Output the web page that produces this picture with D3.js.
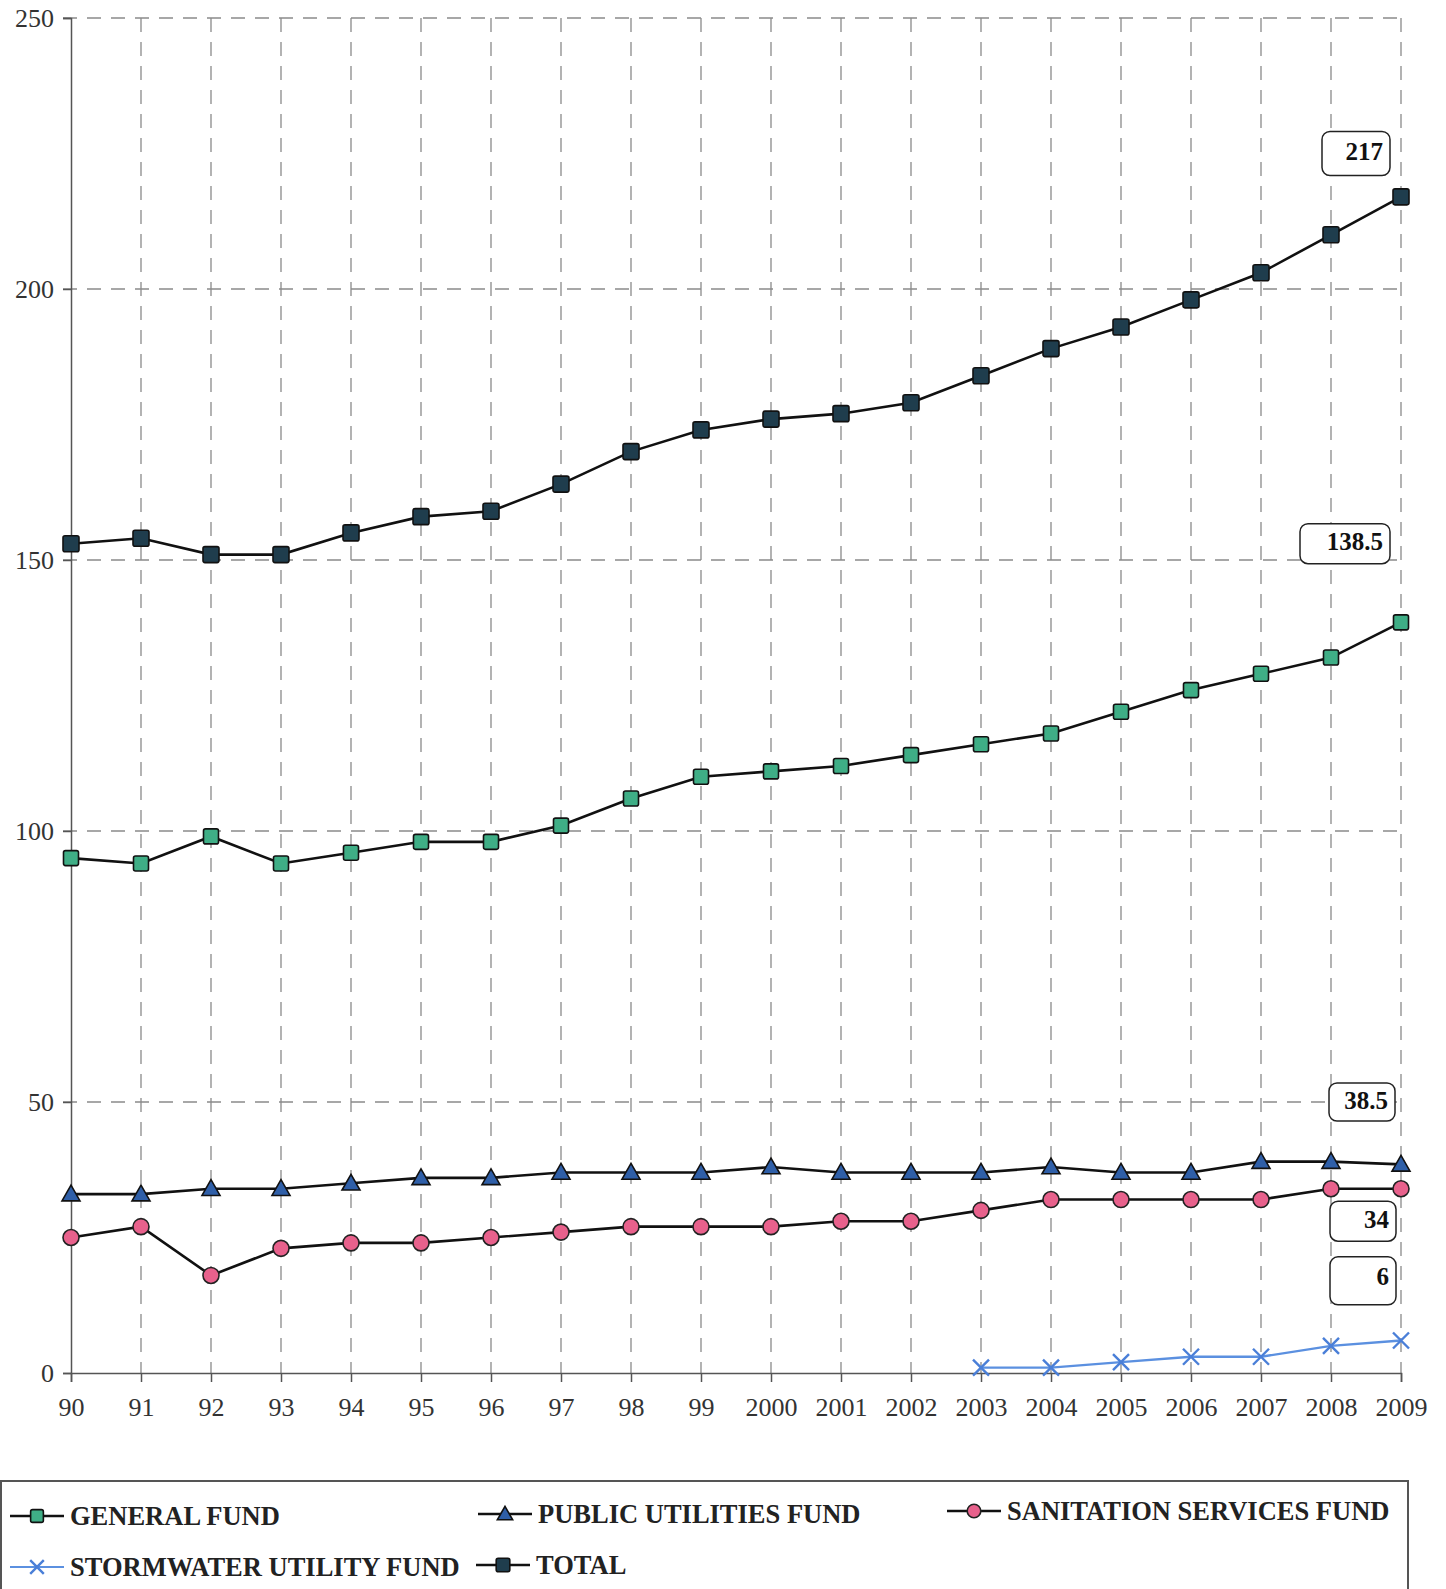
<!DOCTYPE html>
<html>
<head>
<meta charset="utf-8">
<script src="https://cdn.jsdelivr.net/npm/d3@7"></script>
<style>
  body { margin: 0; background: #fff; }
  svg { display: block; font-family: "Liberation Serif", "Times New Roman", serif; }
</style>
</head>
<body>
<svg id="chart" width="1446" height="1589"></svg>
<script>
// Data (millions)
const years = ["90", "91", "92", "93", "94", "95", "96", "97", "98", "99",
               "2000", "2001", "2002", "2003", "2004", "2005", "2006", "2007", "2008", "2009"];
const generalFund = [95, 94, 99, 94, 96, 98, 98, 101, 106, 110, 111, 112, 114, 116, 118, 122, 126, 129, 132, 138.5];
const publicUtilities = [33, 33, 34, 34, 35, 36, 36, 37, 37, 37, 38, 37, 37, 37, 38, 37, 37, 39, 39, 38.5];
const sanitation = [25, 27, 18, 23, 24, 24, 25, 26, 27, 27, 27, 28, 28, 30, 32, 32, 32, 32, 34, 34];
const stormwater = [null, null, null, null, null, null, null, null, null, null,
                    null, null, null, 1, 1, 2, 3, 3, 5, 6];
const total = [153, 154, 151, 151, 155, 158, 159, 164, 170, 174, 176, 177, 179, 184, 189, 193, 198, 203, 210, 217];
const yTicks = [0, 50, 100, 150, 200, 250];

const series = [
  { name: "GENERAL FUND", values: generalFund, marker: "square", fill: "#3fae86", line: "#111", label: "138.5" },
  { name: "PUBLIC UTILITIES FUND", values: publicUtilities, marker: "triangle", fill: "#2f5fa8", line: "#111", label: "38.5" },
  { name: "SANITATION SERVICES FUND", values: sanitation, marker: "circle", fill: "#e8618c", line: "#111", label: "34" },
  { name: "STORMWATER UTILITY FUND", values: stormwater, marker: "x", fill: "#4a7fd8", line: "#5b90e0", label: "6" },
  { name: "TOTAL", values: total, marker: "square", fill: "#1f3d4d", line: "#111", label: "217", big: true }
];

const svg = d3.select("#chart");
const plotL = 71, plotR = 1401, plotT = 18, plotB = 1373;

const x = d3.scalePoint().domain(years).range([plotL, plotR]);
const y = d3.scaleLinear().domain([0, 250]).range([plotB, plotT]);

// Grid
const grid = svg.append("g").attr("stroke", "#8a8a8a").attr("stroke-width", 1.3).attr("stroke-dasharray", "14,10");
grid.selectAll(".hg").data(yTicks.filter(d => d > 0)).enter().append("line")
  .attr("x1", plotL - 8).attr("x2", plotR).attr("y1", d => y(d)).attr("y2", d => y(d));
grid.selectAll(".vg").data(years.slice(1)).enter().append("line")
  .attr("x1", d => x(d)).attr("x2", d => x(d)).attr("y1", plotT).attr("y2", plotB);

// Axes
const yAxis = svg.append("g").attr("transform", `translate(${plotL},0)`)
  .call(d3.axisLeft(y).tickValues(yTicks).tickSize(8).tickPadding(9));
const xAxis = svg.append("g").attr("transform", `translate(0,${plotB})`)
  .call(d3.axisBottom(x).tickSize(9).tickPadding(16));
[yAxis, xAxis].forEach(a => {
  a.attr("font-family", "Liberation Serif");
  a.select(".domain").attr("stroke", "#555").attr("stroke-width", 1.5);
  a.selectAll(".tick line").attr("stroke", "#555").attr("stroke-width", 1.5);
  a.selectAll("text").attr("font-size", 26).attr("fill", "#333");
});

// marker drawing
function drawMarker(g, s, cx, cy, scale) {
  const k = scale || 1;
  if (s.marker === "square") {
    const r = (s.big ? 8 : 7.5) * k;
    g.append("rect").attr("x", cx - r).attr("y", cy - r).attr("width", 2 * r).attr("height", 2 * r)
      .attr("rx", 2).attr("fill", s.fill).attr("stroke", "#111").attr("stroke-width", 1.6);
  } else if (s.marker === "triangle") {
    const r = 9 * k;
    g.append("path").attr("d", `M${cx},${cy - r}L${cx + r},${cy + r * 0.75}L${cx - r},${cy + r * 0.75}Z`)
      .attr("fill", s.fill).attr("stroke", "#111").attr("stroke-width", 1.6);
  } else if (s.marker === "circle") {
    g.append("circle").attr("cx", cx).attr("cy", cy).attr("r", 8 * k)
      .attr("fill", s.fill).attr("stroke", "#222").attr("stroke-width", 1.6);
  } else {
    const r = 8 * k;
    g.append("path").attr("d", `M${cx - r},${cy - r}L${cx + r},${cy + r}M${cx - r},${cy + r}L${cx + r},${cy - r}`)
      .attr("stroke", s.fill).attr("stroke-width", 2.4).attr("fill", "none");
  }
}

// Lines and points
const line = d3.line().defined(d => d.v != null).x(d => x(d.year)).y(d => y(d.v));
series.forEach(s => {
  const pts = years.map((yr, i) => ({ year: yr, v: s.values[i] }));
  svg.append("path").datum(pts).attr("fill", "none").attr("stroke", s.line)
    .attr("stroke-width", s.marker === "x" ? 2.4 : 2.6).attr("d", line);
  const g = svg.append("g");
  pts.filter(d => d.v != null).forEach(d => drawMarker(g, s, x(d.year), y(d.v)));
});

// Value callouts at the last year (boxes placed as in the original)
const callouts = {
  "217": { at: 225, w: 68, h: 44, dx: -11 },
  "138.5": { at: 153, w: 90, h: 40, dx: -11 },
  "38.5": { at: 50, w: 66, h: 38, dx: -6 },
  "34": { at: 28, w: 66, h: 40, dx: -5 },
  "6": { at: 17, w: 66, h: 48, dx: -5 }
};
series.forEach(s => {
  const c = callouts[s.label];
  const rx = x("2009") + c.dx, cy = y(c.at);
  const g = svg.append("g");
  g.append("rect").attr("x", rx - c.w).attr("y", cy - c.h / 2).attr("width", c.w).attr("height", c.h)
    .attr("rx", 8).attr("fill", "#fff").attr("stroke", "#222").attr("stroke-width", 1.5);
  g.append("text").attr("x", rx - 7).attr("y", s.label === "6" ? cy - 5 : cy - 2).attr("dy", "0.35em")
    .attr("text-anchor", "end").attr("font-weight", "bold").attr("font-size", 25).attr("fill", "#111")
    .text(s.label);
});

// Legend
svg.append("rect").attr("x", 1).attr("y", 1481).attr("width", 1407).attr("height", 120)
  .attr("fill", "none").attr("stroke", "#555").attr("stroke-width", 2);
const legendPos = [
  { lx: 10, ty: 1516 }, { lx: 478, ty: 1514 }, { lx: 947, ty: 1511 },
  { lx: 10, ty: 1567 }, { lx: 476, ty: 1565 }
];
series.forEach((s, i) => {
  const p = legendPos[i];
  const g = svg.append("g");
  g.append("line").attr("x1", p.lx).attr("x2", p.lx + 54).attr("y1", p.ty).attr("y2", p.ty)
    .attr("stroke", s.line).attr("stroke-width", s.marker === "x" ? 2.2 : 2.6);
  drawMarker(g, s, p.lx + 27, p.ty, 0.85);
  g.append("text").attr("x", p.lx + 60).attr("y", p.ty).attr("dy", "0.35em")
    .attr("font-size", 26.5).attr("font-weight", "bold").attr("fill", "#222").text(s.name);
});
</script>
</body>
</html>
